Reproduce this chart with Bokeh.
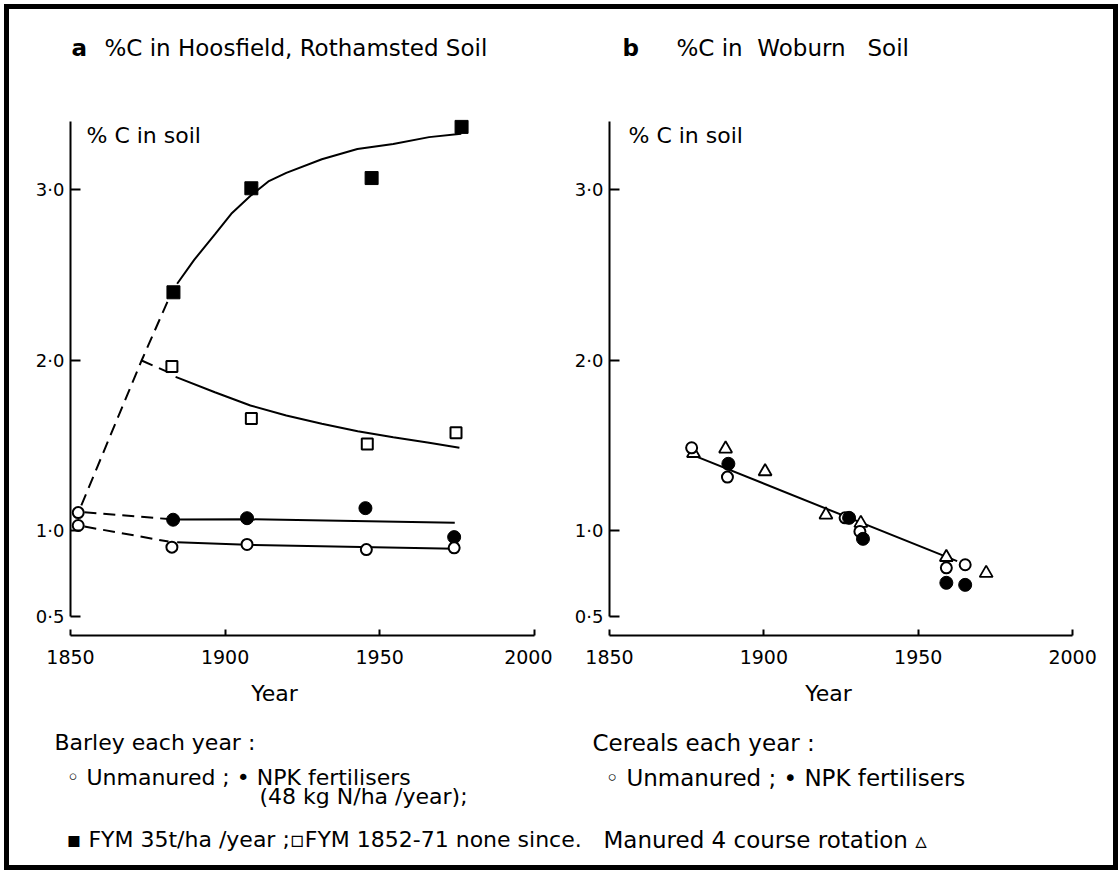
from bokeh.plotting import figure
from bokeh.models import FixedTicker, Label
from bokeh.layouts import row, column
from bokeh.embed import file_html
from bokeh.resources import INLINE

FONT = "DejaVu Sans"

# ---------------- data: panel a (Hoosfield, Rothamsted) ----------------
start_year = [1852.5, 1852.5]
start_c = [1.108, 1.032]

fym_year = [1883.3, 1908.5, 1947.4, 1976.5]
fym_c = [2.40, 3.01, 3.07, 3.37]
fym_old_year = [1882.8, 1908.5, 1946.0, 1974.7]
fym_old_c = [1.965, 1.66, 1.51, 1.576]
npk_year = [1883.2, 1907.1, 1945.4, 1974.1]
npk_c = [1.066, 1.075, 1.134, 0.964]
unm_year = [1882.8, 1907.1, 1945.7, 1974.1]
unm_c = [0.905, 0.921, 0.891, 0.901]

# fitted curves
fym_dash_year = [1853.5, 1873.0, 1881.5]
fym_dash_c = [1.15, 2.0, 2.35]
fym_fit_year = [1884.5, 1890, 1896.7, 1902, 1908.5, 1914, 1919.8, 1931.3, 1942.8, 1954.4, 1966.0, 1976.4]
fym_fit_c = [2.45, 2.59, 2.74, 2.86, 2.97, 3.05, 3.10, 3.18, 3.24, 3.27, 3.31, 3.33]

old_dash_year = [1873.0, 1881.7]
old_dash_c = [2.0, 1.93]
old_fit_year = [1884.0, 1896.7, 1908.2, 1919.8, 1931.3, 1942.9, 1954.4, 1966.0, 1975.8]
old_fit_c = [1.904, 1.814, 1.736, 1.677, 1.629, 1.585, 1.55, 1.517, 1.488]

npk_dash_year = [1854.5, 1881.7]
npk_dash_c = [1.11, 1.07]
npk_fit_year = [1884.5, 1907.0, 1974.3]
npk_fit_c = [1.067, 1.069, 1.048]

unm_dash_year = [1854.5, 1881.7]
unm_dash_c = [1.026, 0.938]
unm_fit_year = [1884.5, 1907.0, 1974.3]
unm_fit_c = [0.934, 0.919, 0.896]

# ---------------- data: panel b (Woburn) ----------------
wob_unm_year = [1876.6, 1888.2, 1926.3, 1931.1, 1959.1, 1965.2]
wob_unm_c = [1.488, 1.316, 1.077, 0.997, 0.784, 0.802]
wob_npk_year = [1888.5, 1927.6, 1932.1, 1959.1, 1965.2]
wob_npk_c = [1.394, 1.077, 0.954, 0.696, 0.684]
wob_rot_year = [1877.2, 1887.6, 1900.4, 1920.1, 1931.4, 1959.1, 1972.0]
wob_rot_c = [1.456, 1.482, 1.349, 1.095, 1.046, 0.846, 0.753]
wob_fit_year = [1876.4, 1962.6]
wob_fit_c = [1.449, 0.823]

x_ticks = [1850, 1900, 1950, 2000]
y_ticks = [0.5, 1.0, 2.0, 3.0]
y_tick_labels = ["0·5", "1·0", "2·0", "3·0"]

# ---------------- layout geometry ----------------
Y0 = 0.387
PXU = 170.5
FH = 535
Y1 = Y0 + FH / PXU
INNER_W = 1104


def make_panel(x_end, frame_w, left_border, right_border):
    p = figure(x_range=(1850, x_end), y_range=(Y0, Y1), frame_width=frame_w, frame_height=FH,
               min_border_left=left_border, min_border_right=right_border, min_border_top=0,
               min_border_bottom=45, output_backend="svg", toolbar_location=None)
    p.grid.visible = False
    p.outline_line_color = None
    p.background_fill_color = "white"
    p.border_fill_color = "white"
    xa = p.xaxis[0]
    xa.bounds = (1850, 2000)
    xa.ticker = FixedTicker(ticks=x_ticks)
    xa.major_tick_in = 6
    xa.major_tick_out = 0
    xa.minor_tick_line_color = None
    xa.axis_line_width = 2
    xa.major_tick_line_width = 2
    xa.axis_line_color = "black"
    xa.major_tick_line_color = "black"
    xa.major_label_standoff = 14
    xa.major_label_text_font = FONT
    xa.major_label_text_font_size = "19px"
    xa.major_label_text_color = "black"
    ya = p.yaxis[0]
    ya.bounds = (0.5, 3.4)
    ya.ticker = FixedTicker(ticks=y_ticks)
    ya.major_label_overrides = {t: s for t, s in zip(y_ticks, y_tick_labels)}
    ya.major_tick_in = 10
    ya.major_tick_out = 0
    ya.minor_tick_line_color = None
    ya.axis_line_width = 2
    ya.major_tick_line_width = 2
    ya.axis_line_color = "black"
    ya.major_tick_line_color = "black"
    ya.major_label_standoff = 6
    ya.major_label_text_font = FONT
    ya.major_label_text_font_size = "18px"
    ya.major_label_text_color = "black"
    return p


def text_strip(y_top, y_bottom):
    s = figure(x_range=(9, 9 + INNER_W), y_range=(y_bottom, y_top), width=INNER_W,
               height=y_bottom - y_top, min_border=0, x_axis_type=None, y_axis_type=None,
               output_backend="svg", toolbar_location=None)
    s.grid.visible = False
    s.outline_line_color = None
    return s


def add_label(p, x, y, text, size="21px", bold=False, align="left"):
    p.add_layout(Label(x=x, y=y, text=text, text_font=FONT, text_font_size=size,
                       text_font_style="bold" if bold else "normal", text_color="black",
                       text_align=align, text_baseline="middle"))


def vy(py):
    return Y0 + (635 - py) / PXU


# ---------------- top strip: panel titles ----------------
top = text_strip(9, 100)
add_label(top, 71, 47, "a", size="23px", bold=True)
add_label(top, 104, 47, "%C in Hoosfield, Rothamsted Soil", size="23px")
add_label(top, 622, 47, "b", size="23px", bold=True)
add_label(top, 676, 47, "%C in\u00a0 Woburn\u00a0\u00a0\u00a0Soil", size="23px")

# ---------------- panel a ----------------
pa = make_panel(2003, 473, 61, 9)


def ax(px):
    return 1850 + (px - 70) / (473 / 153)


LW = 2
DASH = "12 7"
pa.line(fym_dash_year, fym_dash_c, line_width=LW, line_color="black", line_dash=DASH)
pa.line(old_dash_year, old_dash_c, line_width=LW, line_color="black", line_dash=DASH)
pa.line(npk_dash_year, npk_dash_c, line_width=LW, line_color="black", line_dash=DASH)
pa.line(unm_dash_year, unm_dash_c, line_width=LW, line_color="black", line_dash=DASH)
pa.line(fym_fit_year, fym_fit_c, line_width=LW, line_color="black")
pa.line(old_fit_year, old_fit_c, line_width=LW, line_color="black")
pa.line(npk_fit_year, npk_fit_c, line_width=LW, line_color="black")
pa.line(unm_fit_year, unm_fit_c, line_width=LW, line_color="black")

pa.scatter(start_year, start_c, marker="circle", size=11, line_width=2, line_color="black", fill_color="white")
pa.scatter(fym_year, fym_c, marker="square", size=13, line_color="black", fill_color="black")
pa.scatter(fym_old_year, fym_old_c, marker="square", size=11, line_width=2, line_color="black", fill_color="white")
pa.scatter(npk_year, npk_c, marker="circle", size=13, line_color="black", fill_color="black")
pa.scatter(unm_year, unm_c, marker="circle", size=11, line_width=2, line_color="black", fill_color="white")

add_label(pa, ax(86), vy(135), "% C in soil", size="22px")

# ---------------- panel b ----------------
pb = make_panel(2010, 494, 57, INNER_W - 543 - 57 - 494)


def bx(px):
    return 1850 + (px - 609) / (494 / 160)


pb.line(wob_fit_year, wob_fit_c, line_width=LW, line_color="black")
pb.scatter(wob_rot_year, wob_rot_c, marker="triangle", size=13, line_width=1.8, line_color="black", fill_color="white")
pb.scatter(wob_unm_year, wob_unm_c, marker="circle", size=11, line_width=2, line_color="black", fill_color="white")
pb.scatter(wob_npk_year, wob_npk_c, marker="circle", size=13, line_color="black", fill_color="black")

add_label(pb, bx(628), vy(135), "% C in soil", size="22px")

# ---------------- bottom strip: axis titles and key ----------------
bot = text_strip(680, 865)
add_label(bot, 274, 693, "Year", size="22px", align="center")
add_label(bot, 828, 693, "Year", size="22px", align="center")
LS = "22px"
add_label(bot, 54, 742, "Barley each year :", size=LS)
add_label(bot, 66, 777, "◦ Unmanured ; • NPK fertilisers", size=LS)
add_label(bot, 259, 796, "(48 kg N/ha /year);", size=LS)
add_label(bot, 66, 839, "▪ FYM 35t/ha /year ;▫FYM 1852-71 none since.", size=LS)
RS = "23px"
add_label(bot, 592, 742, "Cereals each year :", size=RS)
add_label(bot, 605, 777, "◦ Unmanured ; • NPK fertilisers", size=RS)
add_label(bot, 603, 839, "Manured 4 course rotation ▵", size=RS)

layout = column(top, row(pa, pb), bot,
                styles={"border": "5px solid black", "margin": "4px 0 0 4px", "background-color": "white"})

open("out.html", "w").write(file_html(layout, INLINE))
